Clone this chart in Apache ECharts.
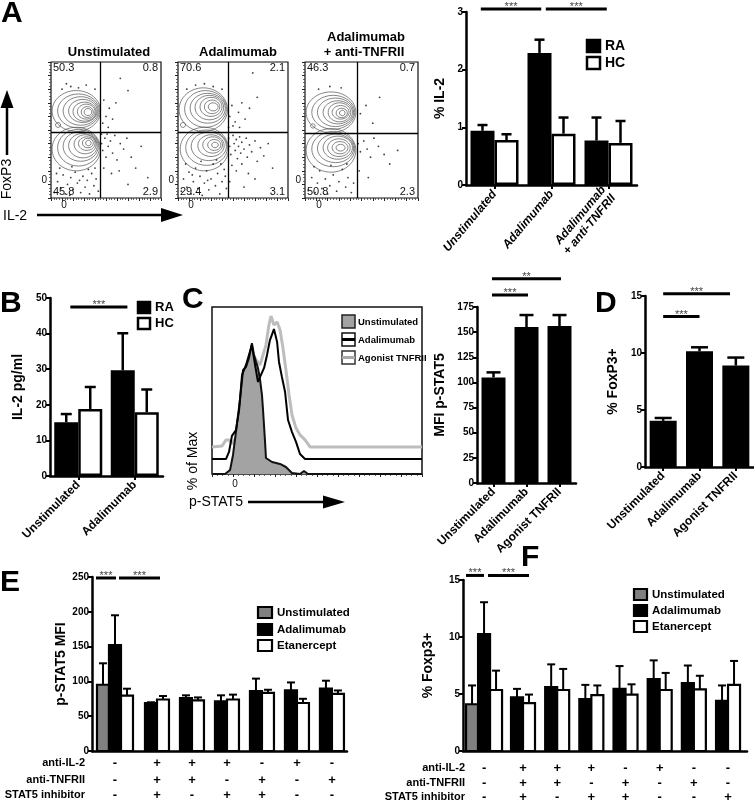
<!DOCTYPE html>
<html><head><meta charset="utf-8">
<script src="https://cdn.jsdelivr.net/npm/echarts@6/dist/echarts.min.js"></script>
<style>html,body{margin:0;padding:0;background:#fff}#c{width:754px;height:801px}</style>
</head><body><div id="c"></div>
<script>
const FONT = '"Liberation Sans", Arial, Helvetica, sans-serif';

// ---------- Panel A: flow plots ----------
const flowTitles = ['Unstimulated', 'Adalimumab', 'Adalimumab', '+ anti-TNFRII'];
const flowPct = [['50.3','0.8','45.8','2.9'], ['70.6','2.1','29.4','3.1'], ['46.3','0.7','50.8','2.3']];
const flowGateX = [44.5, 45.5, 46];
const flowGateY = [48.5, 48.5, 47.8];
const flowZeroY = [13.2, 13.2, 13.2];
const flowZeroX = [11.8, 11.8, 12.4];
const flowRings1 = [[23,64,22,15],[25,64,19,12.5],[27,64,16,10.5],[29,64,13,8.5],[30.5,63.5,10.5,7],[32,63.5,8,5.5],[33,63.2,5.5,4],[33.6,63.2,3.5,2.6],[6.4,53.7,2.3,1.8],
  [23,36,22,16],[25,37,19,13.5],[27,38,16,11],[29,38.5,13,9],[31,39.5,10,7],[32.5,40,7.5,5],[33.5,40.4,5,3.5],[34,40.4,2.5,2]];
const flowRings2 = [[23,65,22,16],[25,65.5,19,13.5],[27,66,16,11],[28.5,66.5,13,9],[30,67,10,7],[31,67,7,5],[32,67,4.5,3],[4.5,53.7,2.3,1.8],
  [24,36,22,16],[26,37,19,13],[28,38,16,10.5],[30,38.5,12,8],[31.5,39,9,6],[33,39,6,4],[33.6,39,3,2]];
const flowRings3 = [[23,63,22,15],[25,63,19,12.5],[27,63,16,10.5],[29,63,13,8.5],[30.5,63,10,7],[31.5,63,7.5,5],[32.5,62.5,5,3.5],[33,62.5,2.5,2],[7,53,2,1.6],
  [23,35,22,16],[25,36,19,13],[27,36.5,16,10.5],[29,37,13,8.5],[30,37,10,6.5],[31,37,7,4.5],[31.5,37,4,2.5]];
const flowDots1 = [[3,4],[6,12],[9,7],[11,17],[13,3],[15,10],[18,15],[20,6],[22,19],[24,11],[27,4],[29,16],[31,8],[33,13],[35,3],[37,18],[39,9],[41,14],[43,5],[5,18],[17,2],[26,13],[34,21],[8,22],[19,23],[40,22],
  [10,80],[18,82],[25,81],[32,83],[40,80],[14,84],
  [48,72],[50,60],[53,66],[56,58],[59,70],[47,55],[63,88],[70,79],[52,52],
  [46,40],[47,35],[49,44],[50,30],[52,38],[54,42],[56,33],[58,46],[60,28],[63,40],[66,36],[69,44],[73,30],[77,22],[82,38],[88,15],[48,22],[55,18],[62,20],[70,10],[46,47],[51,47]];
const flowDots2 = [[3,5],[5,14],[8,8],[10,19],[12,3],[14,12],[16,22],[18,7],[20,16],[22,2],[24,11],[26,20],[28,6],[30,14],[32,25],[34,9],[36,18],[38,3],[40,12],[42,21],[44,7],[7,25],[21,27],[35,28],[43,16],[13,17],[27,13],[39,25],
  [8,80],[16,83],[24,84],[32,82],[40,80],
  [47,60],[49,68],[52,56],[55,63],[58,70],[61,58],[65,66],[72,74],[46,52],[50,53],[56,52],[68,92],
  [46,44],[47,38],[48,32],[50,46],[51,40],[52,35],[53,43],[54,29],[55,38],[56,45],[57,33],[58,41],[60,36],[62,44],[63,30],[65,39],[67,34],[70,42],[72,27],[75,37],[78,31],[82,40],[86,22],[49,24],[53,20],[58,25],[64,18],[70,14],[47,12],[60,8]];
const flowDots3 = [[3,6],[6,15],[9,4],[11,11],[13,20],[15,7],[18,14],[20,3],[22,9],[25,17],[28,5],[30,12],[33,21],[36,8],[38,15],[41,4],[43,11],[8,23],[23,24],[37,25],
  [12,80],[22,82],[32,81],
  [49,62],[54,68],[60,55],[66,74],
  [47,40],[49,34],[52,42],[55,36],[58,30],[61,44],[65,38],[70,32],[75,25],[48,20],[56,15],[82,35]];
const flowRings = [flowRings1, flowRings2, flowRings3];
const flowDots = [flowDots1, flowDots2, flowDots3];

// ---------- Panel A: bar chart ----------
const catsA = ['Unstimulated', 'Adalimumab', 'Adalimumab\n+ anti-TNFRII'];
const aRA = [0.94, 2.29, 0.77];
const aRAErr = [1.04, 2.52, 1.17];
const aHC = [0.78, 0.89, 0.73];
const aHCErr = [0.88, 1.17, 1.11];
const sigA = [{a:[0,-0.24], b:[1,-0.18], y:3.05, t:'***'}, {a:[1,-0.1], b:[2,-0.03], y:3.05, t:'***'}];

// ---------- Panel B ----------
const catsB = ['Unstimulated', 'Adalimumab'];
const bRA = [15.1, 29.7];
const bRAErr = [17.4, 40.1];
const bHC = [18.8, 17.9];
const bHCErr = [25, 24.3];
const sigB = [{a:[0,-0.14], b:[1,-0.13], y:47.5, t:'***'}];

// ---------- Panel C: histogram ----------
const histUnstim = [[0.5,0],[6.2,0],[8.6,2.4],[10,11.4],[11.4,25.1],[13.3,44.3],[14.8,62.3],[16.2,64.1],[17.6,69.5],[19,78.4],[20,71.3],[21,67.1],[21.9,63.5],[22.9,56.3],[23.8,47.3],[24.3,38.3],[25.2,20.4],[25.7,9.6],[28.6,7.2],[32.4,6],[35.2,4.2],[38.1,0.6],[41.9,0],[43.8,1.8],[45.7,0],[100,0]];
const histAdal = [[0,9],[6.7,9],[8.1,13.2],[9.5,22.8],[11.4,26.3],[12.9,38.3],[14.3,59.3],[16.2,65.3],[17.6,71.3],[19,77.2],[20.5,65.3],[21.9,55.1],[23.3,59.3],[24.8,63.5],[26.2,71.3],[27.6,80.2],[29.5,86.8],[31,79],[31.9,67.1],[33.3,58.1],[34.8,49.1],[36.2,32.3],[38.1,25.1],[40,19.2],[41.9,12],[44.3,9],[100,9]];
const histAgonist = [[0,16.2],[4.8,16.8],[6.7,20.4],[8.1,20.4],[9.5,18],[11.4,21.6],[13.3,38.3],[15.2,56.3],[17.1,65.3],[19,73.1],[21,68.3],[22.9,65.3],[24.3,71.3],[25.7,77.2],[27.1,89.2],[28.1,94.6],[29.5,89.2],[31,91],[32.4,86.2],[33.8,75.4],[35.2,62.3],[36.7,47.3],[38.1,35.3],[40,27.5],[41.9,23.4],[44.3,20.4],[46.7,16.2],[100,16.2]];
const histNames = ['Unstimulated', 'Adalimumab', 'Agonist TNFRII'];
const histZeroX = 11;

// ---------- Panel C: bar ----------
const catsC = ['Unstimulated', 'Adalimumab', 'Agonist TNFRII'];
const cVals = [105, 155, 156];
const cErr = [110, 167, 167];
const sigC = [{a:[0,-0.045], b:[1,0.045], y:187, t:'***'}, {a:[0,-0.045], b:[2,0.045], y:203, t:'**'}];

// ---------- Panel D ----------
const catsD = ['Unstimulated', 'Adalimumab', 'Agonist TNFRII'];
const dVals = [4.05, 10.15, 8.9];
const dErr = [4.3, 10.5, 9.6];
const sigD = [{a:[0,0], b:[1,0], y:13.2, t:'***'}, {a:[0,0], b:[2,-0.16], y:15.2, t:'***'}];

// ---------- Panel E ----------
const eUnstim = [95.2];
const eUnstimErr = [126];
const eAdal = [152, 69, 76, 71.5, 86, 87, 89.5];
const eAdalErr = [195, 70, 80, 80, 104, 98.5, 101];
const eEtan = [79.5, 74, 72.6, 74, 83.5, 69, 82];
const eEtanErr = [89.5, 79, 77, 81, 88, 75, 87];
const eAntiIL2 = ['-','+','+','+','-','+','-'];
const eAntiTNFRII = ['-','+','+','-','+','-','+'];
const eStat5 = ['-','+','-','+','+','-','-'];
const sigE = [{a:-0.743, b:-0.171, y:248.6, t:'***'}, {a:-0.086, b:1.086, y:248.6, t:'***'}];

// ---------- Panel F ----------
const fUnstim = [4.1];
const fUnstimErr = [5.75];
const fAdal = [10.25, 4.7, 5.6, 4.55, 5.45, 6.3, 5.95, 4.4];
const fAdalErr = [13.05, 5.45, 7.6, 5.8, 7.45, 7.95, 7.5, 5.75];
const fEtan = [5.35, 4.2, 5.35, 4.9, 4.95, 5.35, 5.4, 5.8];
const fEtanErr = [7.05, 4.95, 7.2, 5.75, 5.85, 6.85, 6.6, 7.9];
const fAntiIL2 = ['-','+','+','+','-','+','-','-'];
const fAntiTNFRII = ['-','+','+','-','+','-','+','-'];
const fStat5 = ['-','+','-','+','+','-','-','+'];
const sigF = [{a:-0.668, b:-0.141, y:15.4, t:'***'}, {a:-0.024, b:1.176, y:15.4, t:'***'}];
const rowLabels = ['anti-IL-2', 'anti-TNFRII', 'STAT5 inhibitor'];
const legendNames = ['Unstimulated', 'Adalimumab', 'Etanercept'];

// ================= layout / helpers =================
const grids = [
  {left:51, top:62, width:110, height:136},
  {left:178, top:62, width:110, height:136},
  {left:305, top:62, width:113, height:136},
  {left:466, top:12, width:171, height:173},
  {left:50, top:298, width:113, height:178},
  {left:212, top:307, width:210, height:167},
  {left:477, top:307, width:99, height:176},
  {left:645, top:296, width:109, height:171},
  {left:92, top:577, width:255, height:174},
  {left:463, top:580, width:284, height:171}
].map((g, i) => Object.assign({outerBoundsMode:'none', containLabel:false,
   show: (i <= 2 || i === 5), borderColor:'#111', borderWidth:(i === 5 ? 1.5 : 1.2), backgroundColor:'transparent'}, g));

function txt(x, y, text, font, align, valign, extra) {
  return Object.assign({type:'text', x, y, silent:true, style:{text, font, fill:'#000',
    align:align, verticalAlign:valign, textAlign:align, textVerticalAlign:valign}}, extra || {});
}

function flowAxis(i) {
  return {gridIndex:i, type:'value', min:0, max:100, interval:10,
    axisLine:{show:false, onZero:false}, axisTick:{show:true, length:3, lineStyle:{color:'#222', width:1}},
    minorTick:{show:true, splitNumber:4, length:2, lineStyle:{color:'#444', width:0.8}},
    axisLabel:{show:false}, splitLine:{show:false}, minorSplitLine:{show:false}};
}
function catX(gi, cats, rotate, italic) {
  return {gridIndex:gi, type:'category', data:cats, boundaryGap:true,
    axisLine:{show:true, onZero:false, lineStyle:{color:'#000', width:2.5}},
    axisTick:{show:true, alignWithLabel:true, length:4, lineStyle:{color:'#000', width:2}},
    axisLabel:{interval:0, rotate, margin:7, fontFamily:FONT, fontWeight:'bold', fontStyle:italic ? 'italic' : 'normal', fontSize:12, color:'#000', lineHeight:13},
    splitLine:{show:false}};
}
function valY(gi, max, interval, name, gap) {
  return {gridIndex:gi, type:'value', min:0, max, interval, name, nameLocation:'middle', nameGap:gap,
    nameTextStyle:{fontFamily:FONT, fontWeight:'bold', fontSize:14, color:'#000'},
    axisLine:{show:true, onZero:false, lineStyle:{color:'#000', width:2.5}},
    axisTick:{show:true, length:4, lineStyle:{color:'#000', width:2}},
    axisLabel:{fontFamily:FONT, fontWeight:'bold', fontSize:10, color:'#000', margin:3},
    splitLine:{show:false}};
}
function groupX(gi, min, max) {
  return {gridIndex:gi, type:'value', min, max,
    axisLine:{show:true, onZero:false, lineStyle:{color:'#000', width:2.5}},
    axisTick:{show:false}, axisLabel:{show:false}, splitLine:{show:false}};
}

function errSeries(gi, vals, errs, dx, capHalf, lw) {
  return {type:'custom', xAxisIndex:gi, yAxisIndex:gi, clip:false, silent:true, z:1,
    data: vals.map((v, i) => [i, v, errs[i]]),
    renderItem: (params, api) => {
      const i = api.value(0), v = api.value(1), e = api.value(2);
      const p0 = api.coord([i, v]), p1 = api.coord([i, e]);
      const x = p0[0] + dx;
      return {type:'group', children:[
        {type:'line', shape:{x1:x, y1:p0[1], x2:x, y2:p1[1]}, style:{stroke:'#000', lineWidth:lw}},
        {type:'line', shape:{x1:x - capHalf, y1:p1[1], x2:x + capHalf, y2:p1[1]}, style:{stroke:'#000', lineWidth:lw}}]};
    }};
}

function sigSeries(gi, sigs) {
  return {type:'custom', xAxisIndex:gi, yAxisIndex:gi, clip:false, silent:true, z:5,
    data: sigs.map(s => [Array.isArray(s.a) ? s.a[0] : s.a, s.y]),
    renderItem: (params, api) => {
      const s = sigs[params.dataIndex];
      const xOf = (spec) => {
        if (Array.isArray(spec)) {
          const band = api.coord([1, s.y])[0] - api.coord([0, s.y])[0];
          return api.coord([spec[0], s.y])[0] + spec[1] * band;
        }
        return api.coord([spec, s.y])[0];
      };
      const y = api.coord([0, s.y])[1];
      const xa = xOf(s.a), xb = xOf(s.b);
      return {type:'group', children:[
        {type:'line', shape:{x1:xa, y1:y, x2:xb, y2:y}, style:{stroke:'#000', lineWidth:3}},
        {type:'text', x:(xa + xb) / 2, y:y - 2, style:{text:s.t, font:'11px ' + FONT, fill:'#444',
          align:'center', verticalAlign:'middle', textAlign:'center', textVerticalAlign:'middle'}}]};
    }};
}

function groupBars(gi, vals, errs, pos, offFn, fill) {
  return {type:'custom', xAxisIndex:gi, yAxisIndex:gi, clip:false, silent:true, z:3,
    data: vals.map((v, g) => [pos(g), v, errs[g]]),
    renderItem: (params, api) => {
      const g = params.dataIndex;
      const x0 = api.value(0), v = api.value(1), e = api.value(2);
      const pB = api.coord([x0, 0]), pT = api.coord([x0, v]), pE = api.coord([x0, e]);
      const cx = pB[0] + offFn(g);
      return {type:'group', children:[
        {type:'line', shape:{x1:cx, y1:pT[1], x2:cx, y2:pE[1]}, style:{stroke:'#000', lineWidth:2}},
        {type:'line', shape:{x1:cx - 4, y1:pE[1], x2:cx + 4, y2:pE[1]}, style:{stroke:'#000', lineWidth:2}},
        {type:'rect', shape:{x:cx - 6, y:pT[1], width:12, height:pB[1] - pT[1]}, style:{fill, stroke:'#000', lineWidth:2.2}}]};
    }};
}

function tableSeries(gi, pos, rows, offsets) {
  return {type:'custom', xAxisIndex:gi, yAxisIndex:gi, clip:false, silent:true, z:5,
    data: rows[0].map((_, g) => [pos(g), 0]),
    renderItem: (params, api) => {
      const g = params.dataIndex;
      const c = api.coord([api.value(0), 0]);
      return {type:'group', children: rows.map((r, ri) => ({type:'text', x:c[0], y:c[1] + offsets[ri],
        style:{text:r[g], font:'bold 13px ' + FONT, fill:'#000', align:'center', verticalAlign:'middle', textAlign:'center', textVerticalAlign:'middle'}}))};
    }};
}

function flowSeries(k) {
  return [
    {type:'custom', xAxisIndex:k, yAxisIndex:k, clip:true, silent:true, z:2, data: flowRings[k],
      renderItem: (params, api) => {
        const c = api.coord([api.value(0), api.value(1)]);
        const s = api.size([api.value(2), api.value(3)]);
        return {type:'ellipse', shape:{cx:c[0], cy:c[1], rx:s[0], ry:s[1]}, style:{fill:'none', stroke:'#505050', lineWidth:0.7}};
      }},
    {type:'scatter', xAxisIndex:k, yAxisIndex:k, data: flowDots[k], symbolSize:1.8, silent:true, z:3,
      itemStyle:{color:'#111'},
      markLine:{silent:true, symbol:['none','none'], label:{show:false}, animation:false,
        lineStyle:{color:'#000', width:1.3, type:'solid'}, data:[{xAxis:flowGateX[k]}, {yAxis:flowGateY[k]}]}},
    {type:'custom', xAxisIndex:k, yAxisIndex:k, clip:false, silent:true, z:4, data:[[0, 0]],
      renderItem: (params, api) => {
        const tl = api.coord([0, 100]), br = api.coord([100, 0]);
        const p = flowPct[k];
        const f = '11px ' + FONT;
        const mk = (x, y, t, al, ff) => ({type:'text', x, y, style:{text:t, font:ff || f, fill:'#111',
          align:al, verticalAlign:'middle', textAlign:al, textVerticalAlign:'middle'}});
        const zl = api.coord([0, flowZeroY[k]]), zb = api.coord([flowZeroX[k], 0]);
        return {type:'group', children:[
          mk(tl[0] + 2, tl[1] + 6, p[0], 'left'), mk(br[0] - 3, tl[1] + 6, p[1], 'right'),
          mk(tl[0] + 2, br[1] - 6, p[2], 'left'), mk(br[0] - 3, br[1] - 6, p[3], 'right'),
          mk(zl[0] - 4, zl[1], '0', 'right', '10px ' + FONT), mk(zb[0], zb[1] + 7, '0', 'center', '10px ' + FONT)]};
      }}
  ];
}

const posE = g => (g === 0 ? -0.2 : g);
const posF = g => (g === 0 ? -0.14 : g);
const offUn = () => -12, offAd = g => (g === 0 ? 0 : -6), offEt = g => (g === 0 ? 12 : 6);

const series = [].concat(
  flowSeries(0), flowSeries(1), flowSeries(2),
  [
    {type:'bar', name:'RA', xAxisIndex:3, yAxisIndex:3, data:aRA, barWidth:24, barGap:'0%', z:3, silent:true, itemStyle:{color:'#000', borderColor:'#000', borderWidth:2.5}},
    {type:'bar', name:'HC', xAxisIndex:3, yAxisIndex:3, data:aHC, barWidth:24, barGap:'0%', z:3, silent:true, itemStyle:{color:'#fff', borderColor:'#000', borderWidth:2.5}},
    errSeries(3, aRA, aRAErr, -12, 5, 2.5), errSeries(3, aHC, aHCErr, 12, 5, 2.5), sigSeries(3, sigA),

    {type:'bar', name:'RA', xAxisIndex:4, yAxisIndex:4, data:bRA, barWidth:24, barGap:'0%', z:3, silent:true, itemStyle:{color:'#000', borderColor:'#000', borderWidth:2.5}},
    {type:'bar', name:'HC', xAxisIndex:4, yAxisIndex:4, data:bHC, barWidth:24, barGap:'0%', z:3, silent:true, itemStyle:{color:'#fff', borderColor:'#000', borderWidth:2.5}},
    errSeries(4, bRA, bRAErr, -12, 5.5, 2.5), errSeries(4, bHC, bHCErr, 12, 5.5, 2.5), sigSeries(4, sigB),

    {type:'line', name:histNames[2], xAxisIndex:5, yAxisIndex:5, data:histAgonist, symbol:'none', silent:true, z:2, lineStyle:{color:'#bdbdbd', width:3}},
    {type:'line', name:histNames[0], xAxisIndex:5, yAxisIndex:5, data:histUnstim, symbol:'none', silent:true, z:3, lineStyle:{color:'#111', width:2}, areaStyle:{color:'#a3a3a3', opacity:1}},
    {type:'line', name:histNames[1], xAxisIndex:5, yAxisIndex:5, data:histAdal, symbol:'none', silent:true, z:4, lineStyle:{color:'#000', width:2}},
    {type:'custom', xAxisIndex:5, yAxisIndex:5, clip:false, silent:true, data:[[histZeroX, 0]],
      renderItem: (params, api) => { const c = api.coord([api.value(0), 0]);
        return {type:'text', x:c[0], y:c[1] + 10, style:{text:'0', font:'10px ' + FONT, fill:'#111', align:'center', verticalAlign:'middle', textAlign:'center', textVerticalAlign:'middle'}}; }},

    {type:'bar', xAxisIndex:6, yAxisIndex:6, data:cVals, barWidth:24, z:3, silent:true, itemStyle:{color:'#000', borderColor:'#000', borderWidth:2}},
    errSeries(6, cVals, cErr, 0, 7, 2.5), sigSeries(6, sigC),

    {type:'bar', xAxisIndex:7, yAxisIndex:7, data:dVals, barWidth:27, z:3, silent:true, itemStyle:{color:'#000', borderColor:'#000', borderWidth:2}},
    errSeries(7, dVals, dErr, 0, 8.5, 2.5), sigSeries(7, sigD),

    groupBars(8, eUnstim, eUnstimErr, posE, offUn, '#808080'),
    groupBars(8, eAdal, eAdalErr, posE, offAd, '#000'),
    groupBars(8, eEtan, eEtanErr, posE, offEt, '#fff'),
    sigSeries(8, sigE),
    tableSeries(8, posE, [eAntiIL2, eAntiTNFRII, eStat5], [12, 29, 44]),

    groupBars(9, fUnstim, fUnstimErr, posF, offUn, '#808080'),
    groupBars(9, fAdal, fAdalErr, posF, offAd, '#000'),
    groupBars(9, fEtan, fEtanErr, posF, offEt, '#fff'),
    sigSeries(9, sigF),
    tableSeries(9, posF, [fAntiIL2, fAntiTNFRII, fStat5], [17, 32, 46])
  ]
);

function legendBox(x, y, w, h, fill, label, fs, lw) {
  return [
    {type:'rect', silent:true, shape:{x, y, width:w, height:h}, style:{fill, stroke:'#000', lineWidth:lw}},
    txt(x + w + 5, y + h / 2, label, 'bold ' + fs + 'px ' + FONT, 'left', 'middle')
  ];
}
function arrowH(x1, x2, y, head, half) {
  return [
    {type:'line', silent:true, shape:{x1, y1:y, x2:x2 - head, y2:y}, style:{stroke:'#000', lineWidth:2.5}},
    {type:'polygon', silent:true, shape:{points:[[x2, y], [x2 - head, y - half], [x2 - head, y + half]]}, style:{fill:'#000'}}
  ];
}

const L = 'bold 30px ' + FONT;
const graphics = [].concat(
  [txt(1, -1, 'A', L, 'left', 'top'), txt(0, 289, 'B', L, 'left', 'top'), txt(182, 285, 'C', L, 'left', 'top'),
   txt(595, 289, 'D', L, 'left', 'top'), txt(0, 568, 'E', L, 'left', 'top'), txt(521, 543, 'F', L, 'left', 'top')],
  [txt(109, 52, flowTitles[0], 'bold 13px ' + FONT, 'center', 'middle'),
   txt(238, 52, flowTitles[1], 'bold 13px ' + FONT, 'center', 'middle'),
   txt(366, 37, flowTitles[2], 'bold 13px ' + FONT, 'center', 'middle'),
   txt(364, 52, flowTitles[3], 'bold 13px ' + FONT, 'center', 'middle')],
  [{type:'line', silent:true, shape:{x1:7, y1:155, x2:7, y2:106}, style:{stroke:'#000', lineWidth:2.5}},
   {type:'polygon', silent:true, shape:{points:[[7, 90], [0.5, 108], [13.5, 108]]}, style:{fill:'#000'}},
   txt(7, 179, 'FoxP3', '14px ' + FONT, 'center', 'middle', {rotation:Math.PI / 2}),
   txt(3, 216, 'IL-2', '14px ' + FONT, 'left', 'middle')],
  arrowH(37, 183, 215, 22, 7),
  legendBox(587, 40, 13, 12, '#000', 'RA', 14, 2.5),
  legendBox(587, 57, 13, 12, '#fff', 'HC', 14, 2.5),
  legendBox(138, 302, 12, 11, '#000', 'RA', 13, 2.5),
  legendBox(138, 318, 12, 11, '#fff', 'HC', 13, 2.5),
  [{type:'rect', silent:true, shape:{x:342, y:315, width:13, height:13}, style:{fill:'#a3a3a3', stroke:'#222', lineWidth:1.5}},
   txt(358, 322, histNames[0], 'bold 9.5px ' + FONT, 'left', 'middle'),
   {type:'rect', silent:true, shape:{x:342, y:333, width:13, height:13}, style:{fill:'#fff', stroke:'#111', lineWidth:1.5}},
   {type:'line', silent:true, shape:{x1:342, y1:339.5, x2:355, y2:339.5}, style:{stroke:'#000', lineWidth:3}},
   txt(358, 340, histNames[1], 'bold 9.5px ' + FONT, 'left', 'middle'),
   {type:'rect', silent:true, shape:{x:342, y:351, width:13, height:13}, style:{fill:'#fff', stroke:'#333', lineWidth:1.5}},
   {type:'line', silent:true, shape:{x1:342, y1:357.5, x2:355, y2:357.5}, style:{stroke:'#aaa', lineWidth:3}},
   txt(358, 358, histNames[2], 'bold 9.5px ' + FONT, 'left', 'middle'),
   txt(193, 461, '% of Max', '14px ' + FONT, 'center', 'middle', {rotation:Math.PI / 2}),
   txt(189, 502, 'p-STAT5', '14px ' + FONT, 'left', 'middle')],
  arrowH(248, 345, 502, 22, 6.5),
  legendBox(258, 607, 14, 11, '#808080', legendNames[0], 11.5, 2.2),
  legendBox(258, 624, 14, 11, '#000', legendNames[1], 11.5, 2.2),
  legendBox(258, 640, 14, 11, '#fff', legendNames[2], 11.5, 2.2),
  legendBox(634, 589, 13, 11, '#808080', legendNames[0], 11.5, 2.2),
  legendBox(634, 605, 13, 11, '#000', legendNames[1], 11.5, 2.2),
  legendBox(634, 621, 13, 11, '#fff', legendNames[2], 11.5, 2.2),
  [txt(85, 763, rowLabels[0], 'bold 11px ' + FONT, 'right', 'middle'),
   txt(85, 780, rowLabels[1], 'bold 11px ' + FONT, 'right', 'middle'),
   txt(85, 795, rowLabels[2], 'bold 11px ' + FONT, 'right', 'middle'),
   txt(465, 768, rowLabels[0], 'bold 11px ' + FONT, 'right', 'middle'),
   txt(465, 783, rowLabels[1], 'bold 11px ' + FONT, 'right', 'middle'),
   txt(465, 797, rowLabels[2], 'bold 11px ' + FONT, 'right', 'middle')]
);

const option = {
  animation:false,
  backgroundColor:'#fff',
  textStyle:{fontFamily:FONT},
  grid: grids,
  xAxis: [flowAxis(0), flowAxis(1), flowAxis(2),
    catX(3, catsA, 50, true), catX(4, catsB, 45, false),
    flowAxis(5),
    catX(6, catsC, 45, false), catX(7, catsD, 45, false),
    groupX(8, -0.857, 6.43), groupX(9, -0.756, 7.555)],
  yAxis: [flowAxis(0), flowAxis(1), flowAxis(2),
    valY(3, 3, 1, '% IL-2', 19), valY(4, 50, 10, 'IL-2 pg/ml', 25),
    {gridIndex:5, type:'value', min:0, max:100, show:false},
    valY(6, 175, 25, 'MFI p-STAT5', 30), valY(7, 15, 5, '% FoxP3+', 25),
    valY(8, 250, 50, 'p-STAT5 MFI', 23), valY(9, 15, 5, '% Foxp3+', 28)],
  series,
  graphic: {elements: graphics}
};

const chart = echarts.init(document.getElementById('c'), null, {renderer:'canvas'});
chart.setOption(option);
</script>
</body></html>
